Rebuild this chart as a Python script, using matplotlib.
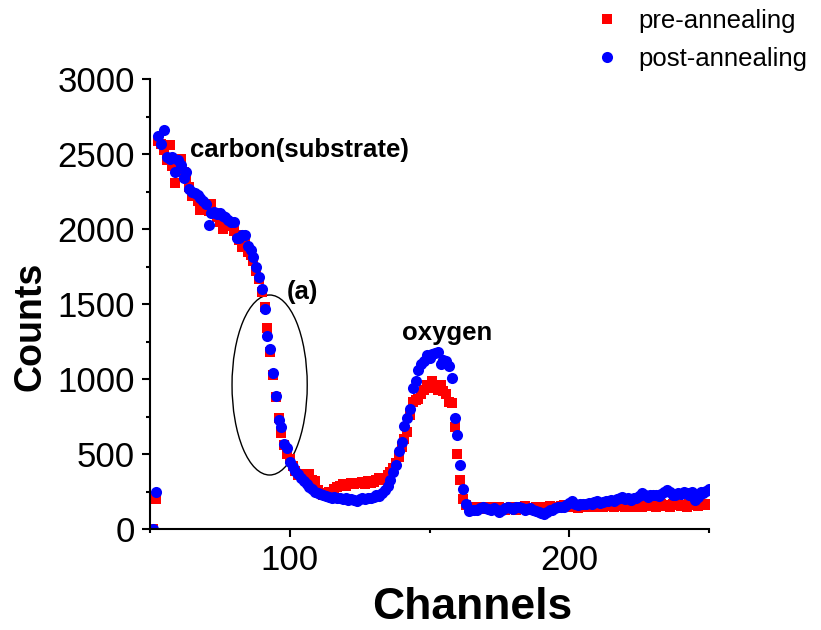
import numpy as np
import matplotlib
matplotlib.use("Agg")
import matplotlib.pyplot as plt
from matplotlib.patches import Ellipse
from matplotlib.ticker import MultipleLocator

plt.rcParams['font.family'] = ['Liberation Sans', 'DejaVu Sans']

# Channels 51..250, one reading per channel
channels = np.arange(51, 251)

pre_annealing = [
    # 51-60
    0, 200, 2590, 2570, 2530, 2460, 2560, 2420, 2310, 2400,
    # 61-70
    2470, 2380, 2340, 2280, 2220, 2230, 2190, 2130, 2160, 2150,
    # 71-80
    2120, 2170, 2110, 2080, 2050, 2000, 2040, 2030, 2020, 1990,
    # 81-90
    1960, 1930, 1880, 1900, 1850, 1830, 1790, 1720, 1670, 1580,
    # 91-100
    1480, 1340, 1180, 1030, 880, 740, 640, 560, 500, 470,
    # 101-110
    420, 390, 360, 370, 350, 370, 370, 330, 320, 260,
    # 111-120
    240, 225, 230, 250, 240, 270, 280, 290, 300, 290,
    # 121-130
    300, 310, 300, 310, 305, 315, 300, 320, 310, 315,
    # 131-140
    330, 340, 330, 340, 360, 380, 405, 440, 480, 550,
    # 141-150
    600, 650, 760, 850, 860, 870, 900, 930, 960, 940,
    # 151-160
    990, 940, 930, 960, 920, 900, 850, 840, 680, 500,
    # 161-170
    330, 200, 160, 150, 145, 145, 150, 140, 135, 145,
    # 171-180
    150, 140, 135, 145, 150, 140, 130, 135, 150, 145,
    # 181-190
    130, 140, 150, 155, 140, 130, 140, 150, 145, 135,
    # 191-200
    140, 150, 155, 140, 150, 145, 155, 160, 150, 145,
    # 201-210
    155, 150, 140, 150, 160, 155, 150, 145, 155, 160,
    # 211-220
    150, 145, 155, 165, 160, 150, 155, 160, 165, 150,
    # 221-230
    155, 160, 150, 165, 160, 150, 155, 165, 160, 155,
    # 231-240
    150, 160, 165, 155, 160, 150, 165, 160, 170, 155,
    # 241-250
    160, 150, 165, 175, 160, 155, 165, 170, 160, 165,
]

post_annealing = [
    # 51-60
    0, 250, 2620, 2570, 2660, 2480, 2470, 2480, 2380, 2460,
    # 61-70
    2430, 2340, 2380, 2270, 2250, 2240, 2230, 2210, 2190, 2170,
    # 71-80
    2030, 2110, 2115, 2100, 2110, 2090, 2080, 2060, 2050, 2045,
    # 81-90
    1940, 1940, 1960, 1960, 1890, 1860, 1815, 1750, 1680, 1600,
    # 91-100
    1470, 1290, 1200, 1040, 890, 730, 680, 570, 540, 450,
    # 101-110
    415, 390, 370, 340, 320, 300, 280, 265, 250, 240,
    # 111-120
    235, 225, 220, 215, 210, 212, 205, 205, 200, 210,
    # 121-130
    195, 200, 195, 190, 200, 205, 200, 205, 210, 215,
    # 131-140
    225, 220, 240, 260, 290, 330, 380, 430, 520, 580,
    # 141-150
    690, 740, 800, 940, 990, 1060, 1100, 1120, 1160, 1140,
    # 151-160
    1170, 1175, 1180, 1100, 1130, 1120, 1090, 1010, 740, 630,
    # 161-170
    430, 265, 170, 120, 130, 125, 130, 140, 150, 140,
    # 171-180
    135, 130, 140, 130, 115, 130, 140, 150, 140, 135,
    # 181-190
    145, 150, 140, 130, 135, 140, 130, 120, 115, 105,
    # 191-200
    100, 115, 125, 130, 140, 145, 150, 145, 160, 175,
    # 201-210
    185, 165, 160, 170, 170, 165, 175, 170, 180, 185,
    # 211-220
    175, 180, 190, 185, 195, 190, 200, 205, 215, 200,
    # 221-230
    210, 195, 205, 205, 220, 240, 230, 215, 225, 230,
    # 231-240
    225, 220, 235, 245, 260, 245, 230, 225, 240, 235,
    # 241-250
    245, 240, 230, 245, 195, 215, 245, 240, 255, 265,
]

fig = plt.figure(figsize=(8.21, 6.30), dpi=100)
ax = fig.add_axes([0.1827, 0.1603, 0.6809, 0.7143])

ax.plot(channels, pre_annealing, linestyle='none', marker='s', markersize=6.5,
        color='#ff0000', markeredgewidth=0, label='pre-annealing')
ax.plot(channels, post_annealing, linestyle='none', marker='o', markersize=8,
        color='#0000ff', markeredgewidth=0, label='post-annealing')

ax.set_xlim(50, 250)
ax.set_ylim(0, 3000)

# ellipse around the steep edge
ax.add_patch(Ellipse((92.8, 960), 26.9, 1200, fill=False, edgecolor='black', linewidth=1))

ax.text(64.3, 2527, 'carbon(substrate)', fontsize=18.5, fontweight='bold', va='center')
ax.text(99.1, 1580, '(a)', fontsize=18.5, fontweight='bold', va='center')
ax.text(140.3, 1307, 'oxygen', fontsize=18.5, fontweight='bold', va='center')

for side in ('top', 'right'):
    ax.spines[side].set_visible(False)
for side in ('left', 'bottom'):
    ax.spines[side].set_linewidth(1.5)

ax.xaxis.set_major_locator(MultipleLocator(100))
ax.xaxis.set_minor_locator(MultipleLocator(50))
ax.yaxis.set_major_locator(MultipleLocator(500))
ax.yaxis.set_minor_locator(MultipleLocator(250))
ax.tick_params(which='major', direction='out', length=6, width=1.5, labelsize=25, pad=5)
ax.tick_params(which='minor', direction='out', length=3, width=1.5)

# axis titles placed where the reference has them
fig.text(472 / 821, 2 / 630, 'Channels', fontsize=32, fontweight='bold',
         ha='center', va='bottom')
fig.text(30 / 821, 1 - 326 / 630, 'Counts', fontsize=27, fontweight='bold',
         rotation=90, ha='center', va='center')

fig.legend(loc='upper left', bbox_to_anchor=(0.724, 0.986), frameon=False,
           fontsize=18.5, handlelength=1, handletextpad=0.72, borderpad=0,
           borderaxespad=0, labelspacing=0.55)

fig.savefig('out.png', dpi=100)
